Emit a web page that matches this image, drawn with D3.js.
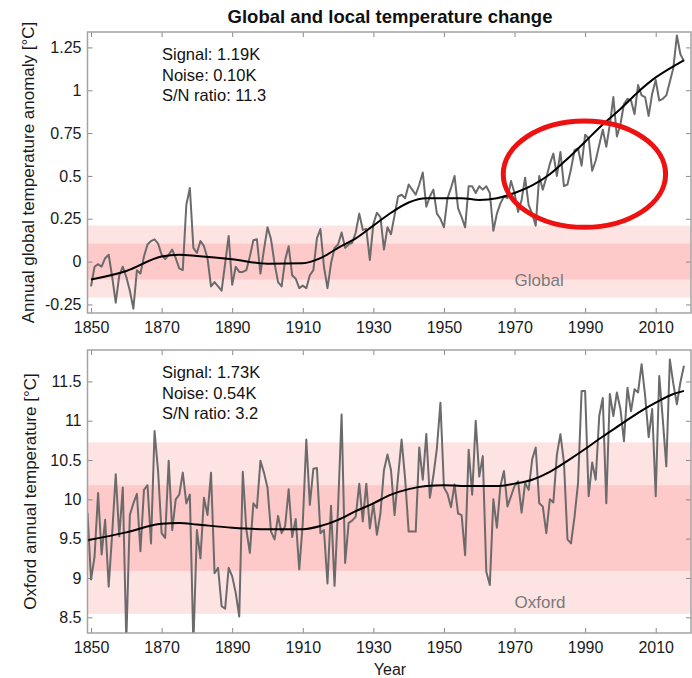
<!DOCTYPE html>
<html>
<head>
<meta charset="utf-8">
<script src="https://cdn.jsdelivr.net/npm/d3@7"></script>
<style>
  body { margin: 0; background: #fff; }
  svg text { font-family: "Liberation Sans", Arial, Helvetica, sans-serif; }
</style>
</head>
<body>
<div id="chart"></div>
<script>
// annual global anomaly 1850-2018 (K)
var globalStart = 1850;
var globalValues = [
  -0.145, -0.03, -0.015, -0.03, 0.02, 0.04, -0.09, -0.24, -0.08, -0.03,
  -0.09, -0.17, -0.275, -0.05, -0.07, 0.03, 0.10, 0.12, 0.13, 0.105,
  0.04, 0.015, 0.04, 0.07, 0.02, -0.04, -0.05, 0.33, 0.43, 0.08,
  0.05, 0.12, 0.09, 0.02, -0.145, -0.12, -0.145, -0.17, -0.01, 0.15,
  -0.135, -0.03, -0.06, -0.06, -0.05, 0.03, 0.125, 0.13, -0.07, 0.07,
  0.20, 0.13, -0.01, -0.12, -0.145, 0.01, 0.09, -0.08, -0.10, -0.155,
  -0.14, -0.155, -0.08, -0.05, 0.135, 0.19, -0.03, -0.155, -0.01, 0.08,
  0.10, 0.17, 0.08, 0.10, 0.11, 0.17, 0.28, 0.185, 0.19, 0.01,
  0.22, 0.285, 0.26, 0.07, 0.20, 0.16, 0.27, 0.38, 0.39, 0.37,
  0.45, 0.42, 0.39, 0.45, 0.52, 0.32, 0.38, 0.42, 0.28, 0.25,
  0.20, 0.37, 0.43, 0.50, 0.31, 0.26, 0.20, 0.44, 0.44, 0.40,
  0.44, 0.42, 0.44, 0.40, 0.18, 0.28, 0.34, 0.38, 0.37, 0.47,
  0.40, 0.29, 0.36, 0.49, 0.33, 0.28, 0.21, 0.50, 0.42, 0.49,
  0.57, 0.63, 0.50, 0.64, 0.44, 0.45, 0.54, 0.65, 0.66, 0.56,
  0.74, 0.72, 0.53, 0.59, 0.68, 0.77, 0.67, 0.80, 0.96, 0.73,
  0.80, 0.92, 0.95, 0.94, 0.86, 1.03, 0.97, 0.96, 0.85, 0.98,
  1.06, 0.94, 0.95, 0.97, 1.05, 1.13, 1.32, 1.21, 1.17
];
var globalSmoothYears = [1850, 1860, 1870, 1875, 1880, 1890, 1900, 1910, 1915, 1920, 1925, 1930, 1935, 1940, 1945,
  1950, 1955, 1960, 1965, 1970, 1975, 1980, 1985, 1990, 1995, 2000, 2005, 2010, 2015, 2018];
var globalSmooth = [-0.105, -0.055, 0.03, 0.04, 0.033, 0.014, -0.012, -0.01, 0.02, 0.08, 0.135, 0.21, 0.285, 0.345, 0.37,
  0.37, 0.37, 0.36, 0.37, 0.40, 0.445, 0.51, 0.60, 0.70, 0.80, 0.89, 0.99, 1.075, 1.14, 1.175];

// Oxford annual mean 1849-2018 (degC)
var oxfordStart = 1849;
var oxfordValues = [
  9.83,
  8.98, 9.27, 10.08, 9.30, 9.74, 8.89, 9.57, 10.32, 9.53, 10.15,
  8.20, 9.80, 9.95, 10.07, 9.34, 10.12, 10.18, 9.44, 10.87, 10.36,
  9.57, 9.51, 10.49, 9.61, 10.00, 10.06, 10.34, 9.95, 10.06, 8.15,
  9.61, 9.25, 10.02, 9.80, 10.34, 9.06, 9.13, 8.64, 8.61, 9.13,
  9.02, 8.81, 8.51, 10.35, 9.62, 9.32, 9.95, 9.89, 10.49, 10.34,
  10.15, 9.59, 9.49, 9.79, 9.57, 9.66, 10.13, 9.52, 9.75, 9.11,
  9.70, 10.76, 9.93, 10.39, 10.40, 9.57, 9.61, 8.93, 9.92, 8.90,
  9.90, 11.08, 9.19, 9.70, 9.73, 9.78, 10.20, 9.72, 10.20, 9.63,
  9.95, 9.55, 9.82, 10.37, 10.57, 10.37, 9.80, 10.29, 10.76, 10.26,
  9.59, 9.59, 9.59, 10.66, 10.25, 10.83, 10.02, 10.30, 10.65, 11.23,
  10.15, 10.07, 9.90, 10.19, 9.82, 9.80, 9.29, 10.63, 10.06, 11.00,
  10.29, 10.55, 9.08, 8.91, 10.00, 9.64, 10.17, 10.36, 9.91, 10.04,
  10.17, 10.23, 9.83, 10.21, 10.12, 10.51, 10.66, 9.95, 9.91, 9.57,
  10.00, 9.96, 10.57, 10.83, 10.47, 9.49, 9.44, 9.78, 10.21, 11.38,
  11.38, 10.04, 10.47, 10.25, 11.06, 11.29, 9.95, 11.34, 11.06, 11.36,
  11.15, 10.74, 11.42, 11.12, 11.40, 11.36, 11.72, 11.32, 10.79, 11.15,
  10.04, 11.57, 11.02, 10.42, 11.78, 11.47, 11.21, 11.49, 11.70
];
var oxfordSmoothYears = [1849, 1860, 1870, 1875, 1880, 1890, 1900, 1910, 1915, 1920, 1925, 1930, 1935, 1940, 1945,
  1950, 1955, 1960, 1965, 1970, 1975, 1980, 1985, 1990, 1995, 2000, 2005, 2010, 2015, 2018];
var oxfordSmooth = [9.48, 9.58, 9.69, 9.70, 9.68, 9.64, 9.62, 9.62, 9.66, 9.74, 9.85, 9.95, 10.06, 10.13, 10.17,
  10.18, 10.17, 10.17, 10.17, 10.20, 10.25, 10.35, 10.49, 10.64, 10.80, 10.95, 11.10, 11.23, 11.34, 11.38];

var yearTicks = [1850, 1870, 1890, 1910, 1930, 1950, 1970, 1990, 2010];
var globalTicks = [-0.25, 0, 0.25, 0.5, 0.75, 1, 1.25];
var oxfordTicks = [8.5, 9, 9.5, 10, 10.5, 11, 11.5];

var globalStats = ['Signal: 1.19K', 'Noise: 0.10K', 'S/N ratio: 11.3'];
var oxfordStats = ['Signal: 1.73K', 'Noise: 0.54K', 'S/N ratio: 3.2'];

var width = 692, height = 678;

var svg = d3.select('#chart').append('svg')
  .attr('width', width)
  .attr('height', height);

var x = d3.scaleLinear().domain([1849, 2020]).range([87.5, 691]);

var toPoints = function(start, values){
  return values.map(function(v, i){ return {year: start + i, value: v}; });
};
var zipPoints = function(years, values){
  return years.map(function(yr, i){ return {year: yr, value: values[i]}; });
};

var drawPanel = function(opt){
  var y = d3.scaleLinear().domain(opt.domain).range([opt.bottom, opt.top]);
  var g = svg.append('g');
  var clipId = 'clip-' + opt.name;

  svg.append('clipPath').attr('id', clipId)
    .append('rect')
    .attr('x', x.range()[0]).attr('y', opt.top)
    .attr('width', x.range()[1] - x.range()[0])
    .attr('height', opt.bottom - opt.top);

  // noise bands
  g.append('rect')
    .attr('x', x.range()[0]).attr('width', x.range()[1] - x.range()[0])
    .attr('y', y(opt.center + 2 * opt.noise))
    .attr('height', y(opt.center - 2 * opt.noise) - y(opt.center + 2 * opt.noise))
    .attr('fill', '#fee3e3');
  g.append('rect')
    .attr('x', x.range()[0]).attr('width', x.range()[1] - x.range()[0])
    .attr('y', y(opt.center + opt.noise))
    .attr('height', y(opt.center - opt.noise) - y(opt.center + opt.noise))
    .attr('fill', '#fdc9c9');

  g.append('text')
    .attr('x', x(opt.labelYear)).attr('y', y(opt.labelValue))
    .attr('dy', '0.35em')
    .attr('font-size', 17)
    .attr('fill', '#7a7a7a')
    .text(opt.label);

  // axes with inward ticks on all four sides
  var axisB = d3.axisBottom(x).tickValues(yearTicks).tickSize(-5).tickPadding(9).tickFormat(d3.format('d'));
  var axisT = d3.axisTop(x).tickValues(yearTicks).tickSize(-5).tickFormat('');
  var axisL = d3.axisLeft(y).tickValues(opt.ticks).tickSize(-5).tickPadding(6).tickFormat(function(d){ return String(d); });
  var axisR = d3.axisRight(y).tickValues(opt.ticks).tickSize(-5).tickFormat('');

  var axes = [
    g.append('g').attr('transform', 'translate(0,' + opt.bottom + ')').call(axisB),
    g.append('g').attr('transform', 'translate(0,' + opt.top + ')').call(axisT),
    g.append('g').attr('transform', 'translate(' + x.range()[0] + ',0)').call(axisL),
    g.append('g').attr('transform', 'translate(' + x.range()[1] + ',0)').call(axisR)
  ];
  axes.forEach(function(a){
    a.select('.domain').remove();
    a.selectAll('line').attr('stroke', '#8a8a8a');
    a.selectAll('text').attr('font-size', 16).attr('fill', '#1a1a1a')
      .style('font-family', '"Liberation Sans", Arial, sans-serif');
  });

  var line = d3.line()
    .x(function(d){ return x(d.year); })
    .y(function(d){ return y(d.value); });

  g.append('path')
    .datum(toPoints(opt.start, opt.values))
    .attr('clip-path', 'url(#' + clipId + ')')
    .attr('fill', 'none')
    .attr('stroke', '#6b6b6b')
    .attr('stroke-width', 2)
    .attr('stroke-linejoin', 'round')
    .attr('d', line);

  g.append('path')
    .datum(zipPoints(opt.smoothYears, opt.smooth))
    .attr('fill', 'none')
    .attr('stroke', '#000')
    .attr('stroke-width', 2)
    .attr('d', line.curve(d3.curveMonotoneX));

  g.append('rect')
    .attr('x', x.range()[0]).attr('y', opt.top)
    .attr('width', x.range()[1] - x.range()[0])
    .attr('height', opt.bottom - opt.top)
    .attr('fill', 'none')
    .attr('stroke', '#a3a3a3')
    .attr('stroke-width', 1.5);

  g.selectAll('.stat').data(opt.stats).enter().append('text')
    .attr('class', 'stat')
    .attr('x', 162)
    .attr('y', function(d, i){ return opt.top + 28 + i * 20.5; })
    .attr('font-size', 16.5)
    .attr('fill', '#111')
    .text(function(d){ return d; });

  g.append('text')
    .attr('transform', 'translate(' + opt.ylabelX + ',' + ((opt.top + opt.bottom) / 2) + ') rotate(-90)')
    .attr('text-anchor', 'middle')
    .attr('font-size', 17)
    .attr('fill', '#1a1a1a')
    .text(opt.ylabel);

  return y;
};

var yGlobal = drawPanel({
  name: 'global', top: 32, bottom: 313, domain: [-0.3, 1.34],
  start: globalStart, values: globalValues,
  smoothYears: globalSmoothYears, smooth: globalSmooth,
  center: 0, noise: 0.105, ticks: globalTicks, stats: globalStats,
  label: 'Global', labelYear: 1970, labelValue: -0.108,
  ylabel: 'Annual global temperature anomaly [\u00B0C]', ylabelX: 34
});

drawPanel({
  name: 'oxford', top: 350, bottom: 633, domain: [8.3, 11.9],
  start: oxfordStart, values: oxfordValues,
  smoothYears: oxfordSmoothYears, smooth: oxfordSmooth,
  center: 9.635, noise: 0.545, ticks: oxfordTicks, stats: oxfordStats,
  label: 'Oxford', labelYear: 1970, labelValue: 8.7,
  ylabel: 'Oxford annual temperature [\u00B0C]', ylabelX: 36
});

svg.append('text')
  .attr('x', 390).attr('y', 23)
  .attr('text-anchor', 'middle')
  .attr('font-size', 18.5)
  .attr('font-weight', 'bold')
  .attr('fill', '#111')
  .text('Global and local temperature change');

svg.append('text')
  .attr('x', 390).attr('y', 675)
  .attr('text-anchor', 'middle')
  .attr('font-size', 16)
  .attr('fill', '#1a1a1a')
  .text('Year');

// red highlight ellipse around 1970-2010
var ringCenter = {year: 1989.8, value: 0.51};
svg.append('ellipse')
  .attr('cx', x(ringCenter.year))
  .attr('cy', yGlobal(ringCenter.value))
  .attr('rx', x(ringCenter.year + 23) - x(ringCenter.year))
  .attr('ry', yGlobal(ringCenter.value) - yGlobal(ringCenter.value + 0.31))
  .attr('fill', 'none')
  .attr('stroke', '#ee1111')
  .attr('stroke-width', 5);
</script>
</body>
</html>
